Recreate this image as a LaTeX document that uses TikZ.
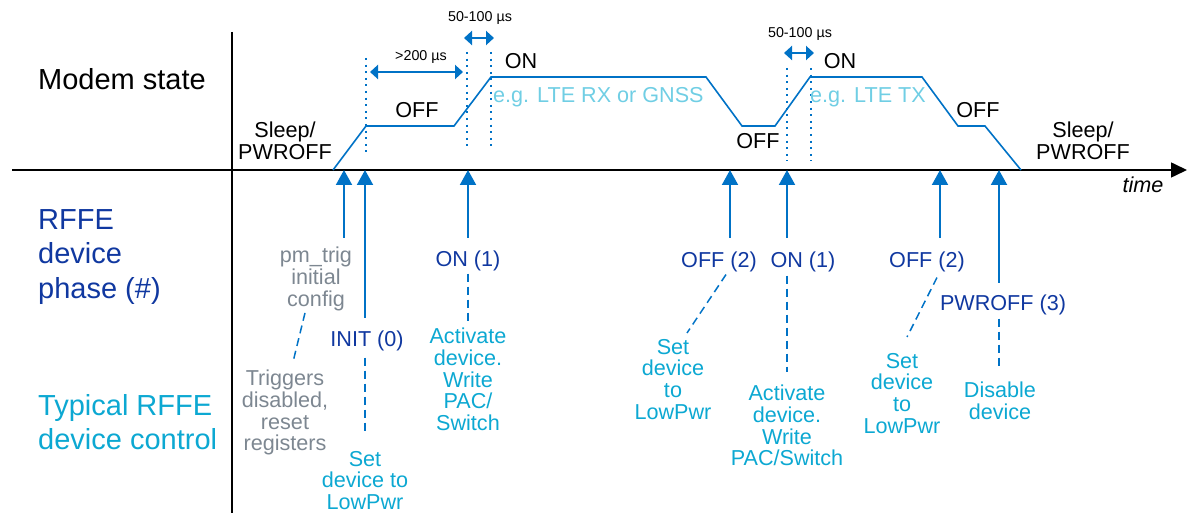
\documentclass[tikz,border=0pt]{standalone}
\usepackage{fontspec}
\setmainfont{Liberation Sans}
\usetikzlibrary{arrows.meta,calc}
\definecolor{wblue}{RGB}{0,114,198}
\definecolor{phasec}{RGB}{16,56,160}
\definecolor{ctrlc}{RGB}{12,168,210}
\definecolor{egc}{RGB}{112,206,228}
\definecolor{greyc}{RGB}{125,135,145}
\begin{document}
\begin{tikzpicture}[x=1pt,y=-1pt,
  wave/.style={wblue, line width=1.6pt, line join=miter},
  dotv/.style={wblue, line width=2pt, dash pattern=on 2pt off 4.6pt},
  span/.style={wblue, line width=2.6pt, {Triangle[length=8pt,width=14pt]}-{Triangle[length=8pt,width=14pt]}},
  uparr/.style={wblue, line width=2pt, -{Triangle[length=15pt,width=16pt]}},
  dashl/.style={wblue, line width=1.5pt, dash pattern=on 8pt off 5pt},
  axisl/.style={black, line width=1.6pt},
  lbl/.style={inner sep=0pt, font=\fontsize{21.6}{21.7}\selectfont, align=center},
  small/.style={inner sep=0pt, font=\fontsize{14.3}{16}\selectfont},
  big/.style={inner sep=0pt, font=\fontsize{29}{34.6}\selectfont, align=left}
]
\useasboundingbox (0,0) rectangle (1187,513);

% axes
\coordinate (xo) at (12,170);
\coordinate (xe) at (1187,170);
\coordinate (yt) at (232,32);
\coordinate (yb) at (232,513);
\draw[axisl] (yt) -- (yb);
\draw[axisl, -{Triangle[length=16pt,width=15pt]}] (xo) -- (xe);

% left headings
\node[big, anchor=base west] (ms) at (38,90) {Modem state};
\node[big, anchor=north west, text=phasec] (rffe) at (38,209) {RFFE\\device\\phase (\#)};
\node[big, anchor=north west, text=ctrlc] (typ) at (38,394) {Typical RFFE\\device control};

% modem state waveform
\draw[wave] (333,170) -- (366,126) -- (454,126) -- (491,77) -- (706,77) -- (742,126) -- (775,126) -- (810,77) -- (922,77) -- (958,126) -- (985,126) -- (1021,170);

% dotted guides
\draw[dotv] (366,58) -- (366,152);
\draw[dotv] (467,52) -- (467,147);
\draw[dotv] (491,52) -- (491,147);
\draw[dotv] (787,68) -- (787,161);
\draw[dotv] (811,68) -- (811,161);

% spans
\coordinate (a1l) at (370,72); \coordinate (a1r) at (463,72);
\coordinate (a2l) at (464,38); \coordinate (a2r) at (494,38);
\coordinate (a3l) at (784,53); \coordinate (a3r) at (814,53);
\draw[span] (a1l) -- (a1r);
\draw[span] (a2l) -- (a2r);
\draw[span] (a3l) -- (a3r);
\node[small, anchor=base] (d1) at (421,61) {>200 µs};
\node[small, anchor=base] (d2) at (480,22) {50-100 µs};
\node[small, anchor=base] (d3) at (800,38) {50-100 µs};

% state labels
\node[lbl, anchor=north] (sl1) at (285,122) {Sleep/\\PWROFF};
\node[lbl, anchor=north] (off1) at (417,102) {OFF};
\node[lbl, anchor=north] (on1) at (521,53) {ON};
\node[lbl, anchor=north west, text=egc] (eg1) at (493,87) {e.g. LTE RX or GNSS};
\node[lbl, anchor=north] (off2) at (758,133) {OFF};
\node[lbl, anchor=north] (on2) at (840,53) {ON};
\node[lbl, anchor=north west, text=egc] (eg2) at (810,87) {e.g. LTE TX};
\node[lbl, anchor=north] (off3) at (978,102) {OFF};
\node[lbl, anchor=north] (sl2) at (1083,122) {Sleep/\\PWROFF};
\node[lbl, anchor=base, font=\fontsize{21.6}{22}\selectfont\itshape] (time) at (1143,193) {time};

% phase and control labels
\node[lbl, text=greyc, anchor=north] (pm) at (316,247) {pm\_trig\\initial\\config};
\node[lbl, text=phasec, anchor=north] (init) at (367,331) {INIT (0)};
\node[lbl, text=phasec, anchor=north] (pon1) at (468,251) {ON (1)};
\node[lbl, text=greyc, anchor=north] (trig) at (285,370) {Triggers\\disabled,\\reset\\registers};
\node[lbl, text=ctrlc, anchor=north] (set1) at (365,451) {Set\\device to\\LowPwr};
\node[lbl, text=ctrlc, anchor=north] (act1) at (468,328) {Activate\\device.\\Write\\PAC/\\Switch};
\node[lbl, text=phasec, anchor=north] (poff2) at (719,252) {OFF (2)};
\node[lbl, text=phasec, anchor=north] (pon2) at (803,252) {ON (1)};
\node[lbl, text=ctrlc, anchor=north] (set2) at (673,339) {Set\\device\\to\\LowPwr};
\node[lbl, text=ctrlc, anchor=north] (act2) at (787,385) {Activate\\device.\\Write\\PAC/Switch};
\node[lbl, text=phasec, anchor=north] (poff3) at (927,252) {OFF (2)};
\node[lbl, text=phasec, anchor=north] (pwr3) at (1003,295) {PWROFF (3)};
\node[lbl, text=ctrlc, anchor=north] (set3) at (902,353) {Set\\device\\to\\LowPwr};
\node[lbl, text=ctrlc, anchor=north] (dis) at (1000,382) {Disable\\device};

% axis points
\coordinate (t1) at (344,170);
\coordinate (t2) at (365,170);
\coordinate (t3) at (468,170);
\coordinate (t4) at (730,170);
\coordinate (t5) at (787,170);
\coordinate (t6) at (940,170);
\coordinate (t7) at (999,170);

% up arrows
\draw[uparr] ($(pm.north -| t1)+(0,-9)$) -- (t1);
\draw[uparr] ($(init.north -| t2)+(0,-13)$) -- (t2);
\draw[uparr] ($(pon1.north -| t3)+(0,-13)$) -- (t3);
\draw[uparr] ($(poff2.north -| t4)+(0,-14)$) -- (t4);
\draw[uparr] ($(pon2.north -| t5)+(0,-14)$) -- (t5);
\draw[uparr] ($(poff3.north -| t6)+(0,-14)$) -- (t6);
\draw[uparr] ($(pwr3.north -| t7)+(0,-12)$) -- (t7);

% dashed links
\draw[dashl] ($(pm.south)+(-11,2)$) -- ($(trig.north)+(8,-8)$);
\draw[dashl] ($(init.south -| t2)+(0,6)$) -- ($(set1.north -| t2)+(0,-16)$);
\draw[dashl] ($(pon1.south)+(0,2)$) -- ($(act1.north)+(0,-3)$);
\draw[dashl] ($(poff2.south)+(7,2)$) -- ($(set2.north)+(14,-6)$);
\draw[dashl] ($(pon2.south -| t5)+(0,3)$) -- ($(act2.north -| t5)+(0,-13)$);
\draw[dashl] ($(poff3.south)+(10,5)$) -- ($(set3.north)+(5,-16)$);
\draw[dashl] ($(pwr3.south -| t7)+(0,3)$) -- ($(dis.north -| t7)+(0,-12)$);
\end{tikzpicture}
\end{document}
